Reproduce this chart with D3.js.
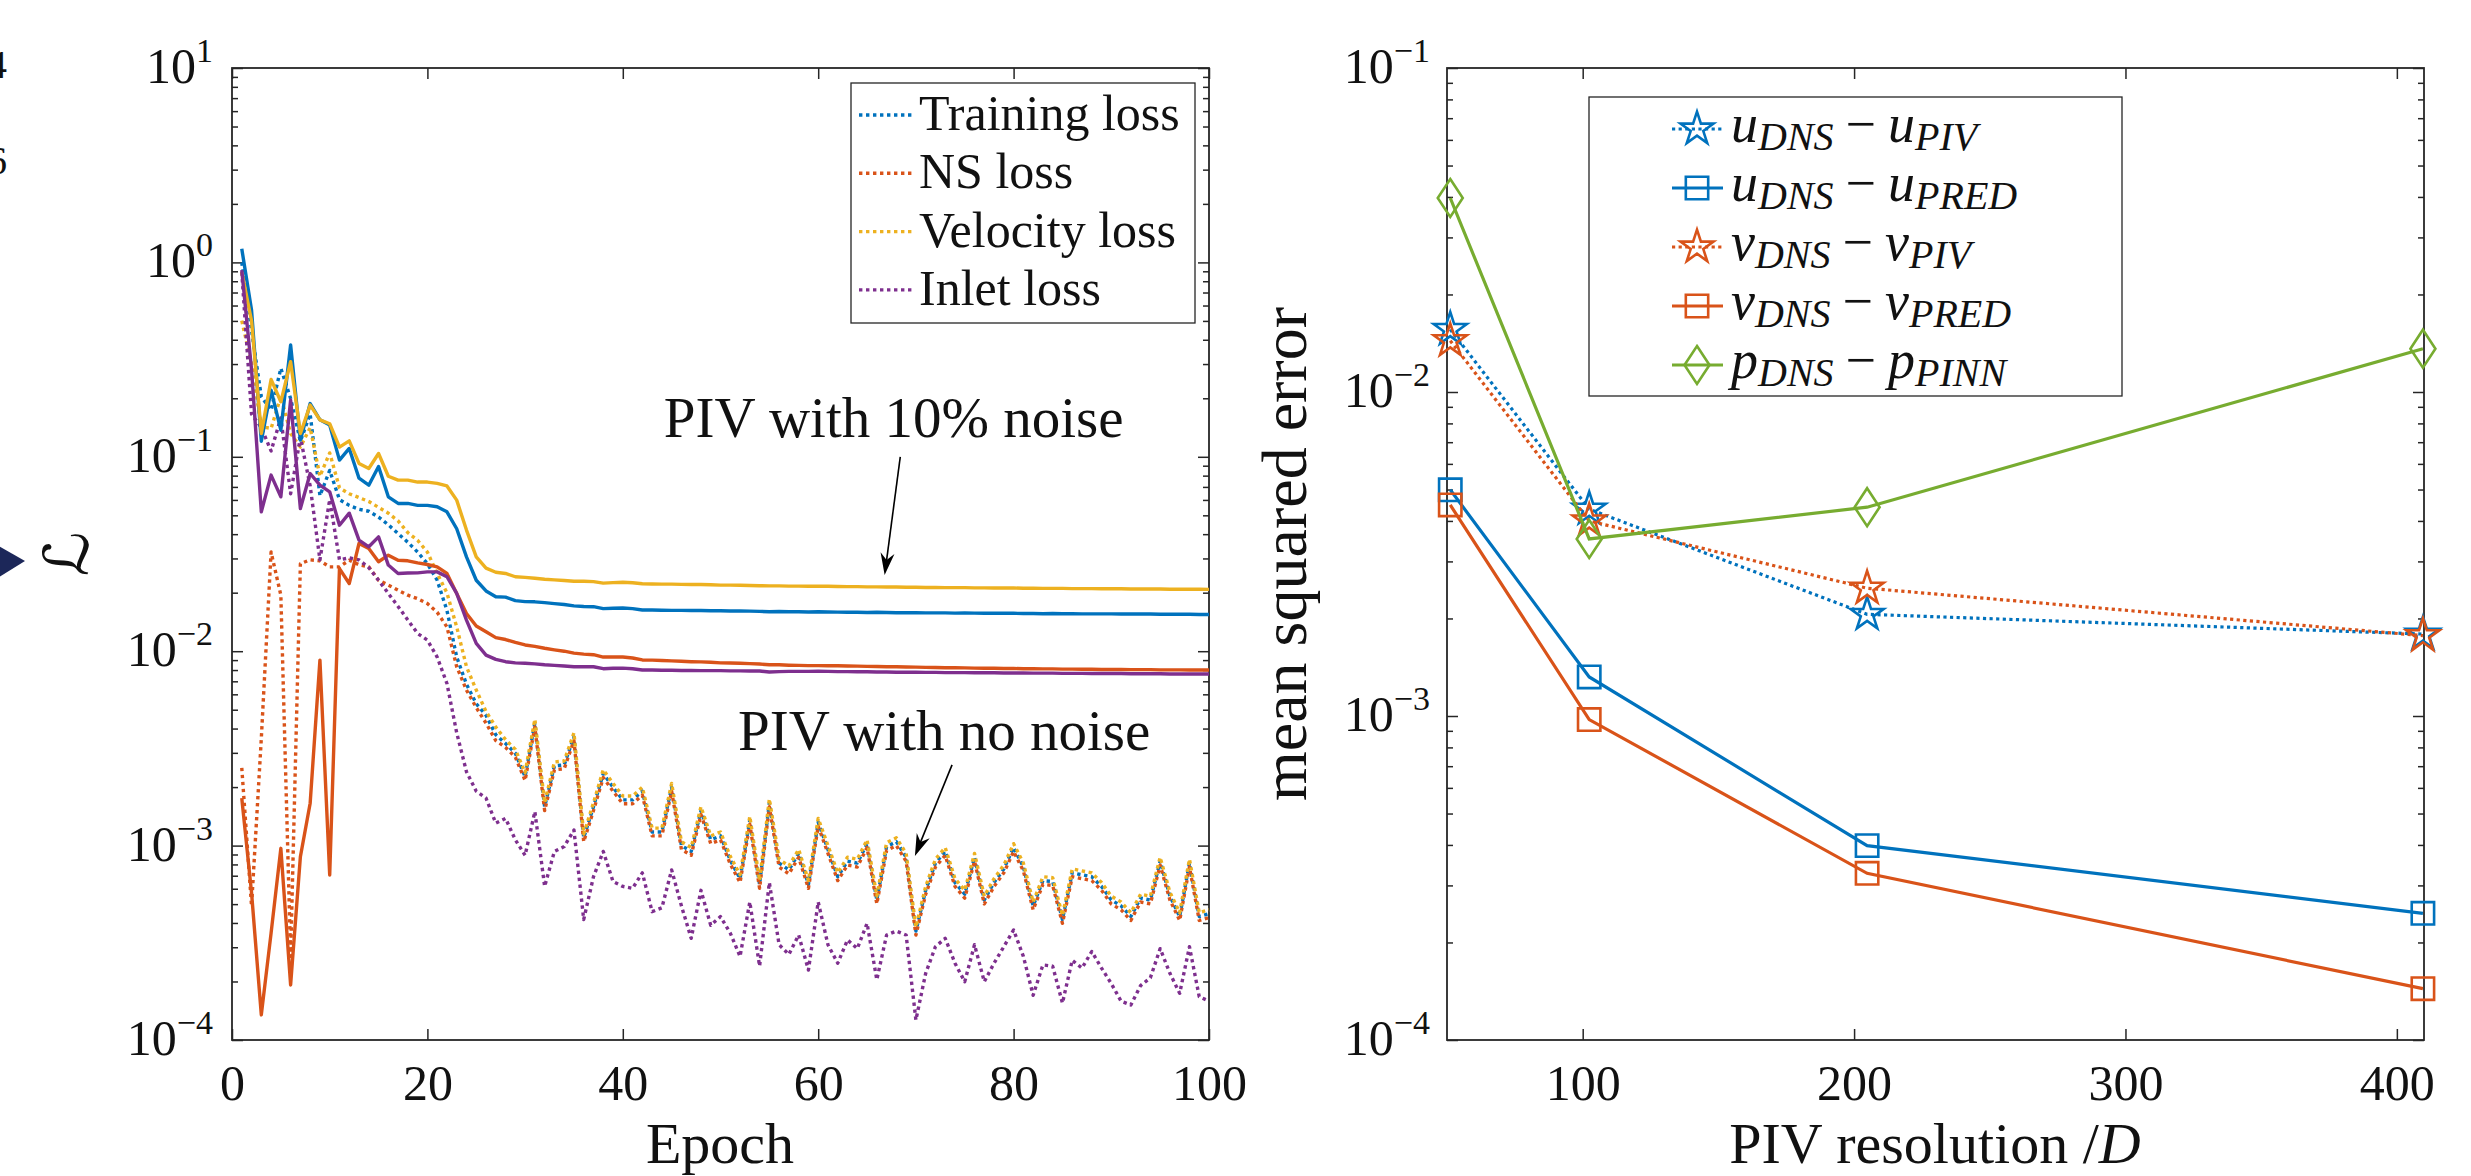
<!DOCTYPE html>
<html>
<head>
<meta charset="utf-8">
<script src="https://cdn.jsdelivr.net/npm/d3@7"></script>
<style>
  body { margin: 0; background: #fff; }
  svg text { font-family: "Liberation Serif", "Times New Roman", serif; fill: #111; }
</style>
</head>
<body>
<div id="chart"></div>
<script>
// ---------------- data (left panel: log10 of the loss, epochs 1..100) ----------------
var epochs = d3.range(1, 101);

// PIV with no noise (dotted)
var trainNoNoise = [
  0.0, -0.35, -0.69, -0.76, -0.545, -0.7, -0.92, -0.78, -1.2, -1.07,
  -1.22, -1.25, -1.27, -1.28, -1.31, -1.35, -1.395, -1.44, -1.49, -1.55,
  -1.635, -1.79, -2.03, -2.17, -2.27, -2.33, -2.43, -2.475, -2.525, -2.645,
  -2.37, -2.80, -2.59, -2.585, -2.44, -2.96, -2.80, -2.63, -2.70, -2.765,
  -2.765, -2.72, -2.93, -2.93, -2.70, -3.0, -3.03, -2.82, -2.97, -2.95,
  -3.075, -3.17, -2.87, -3.2, -2.78, -3.09, -3.125, -3.04, -3.2, -2.88,
  -3.02, -3.16, -3.08, -3.09, -2.99, -3.28, -3.005, -2.98, -3.06, -3.44,
  -3.23, -3.09, -3.03, -3.19, -3.25, -3.06, -3.28, -3.19, -3.12, -3.01,
  -3.11, -3.31, -3.18, -3.185, -3.38, -3.14, -3.15, -3.16, -3.21, -3.28,
  -3.31, -3.365, -3.27, -3.28, -3.08, -3.26, -3.365, -3.09, -3.365, -3.35
];
var nsNoNoise = [
  -2.6, -3.31, -2.45, -1.49, -1.712, -3.57, -1.55, -1.53, -1.535, -1.566,
  -1.566, -1.532, -1.555, -1.566, -1.635, -1.66, -1.686, -1.712, -1.73, -1.755,
  -1.8, -1.875, -2.08, -2.2, -2.29, -2.37, -2.46, -2.495, -2.545, -2.665,
  -2.39, -2.82, -2.61, -2.605, -2.46, -2.98, -2.82, -2.65, -2.72, -2.785,
  -2.785, -2.74, -2.95, -2.95, -2.72, -3.02, -3.05, -2.84, -2.99, -2.97,
  -3.095, -3.19, -2.89, -3.22, -2.8, -3.11, -3.145, -3.06, -3.22, -2.9,
  -3.04, -3.18, -3.1, -3.11, -3.01, -3.3, -3.025, -3.0, -3.08, -3.46,
  -3.25, -3.11, -3.05, -3.21, -3.27, -3.08, -3.3, -3.21, -3.14, -3.03,
  -3.13, -3.33, -3.2, -3.205, -3.4, -3.16, -3.17, -3.18, -3.23, -3.3,
  -3.33, -3.385, -3.29, -3.3, -3.1, -3.28, -3.385, -3.11, -3.385, -3.37
];
var velNoNoise = [
  -0.3, -0.52, -0.845, -0.854, -0.69, -0.88, -0.95, -0.85, -1.1, -0.98,
  -1.16, -1.19, -1.21, -1.23, -1.26, -1.29, -1.33, -1.39, -1.43, -1.49,
  -1.6, -1.7, -1.875, -2.08, -2.2, -2.31, -2.39, -2.455, -2.505, -2.625,
  -2.35, -2.78, -2.57, -2.565, -2.42, -2.94, -2.78, -2.61, -2.68, -2.745,
  -2.745, -2.70, -2.91, -2.91, -2.68, -2.98, -3.01, -2.80, -2.95, -2.93,
  -3.055, -3.15, -2.85, -3.18, -2.76, -3.07, -3.105, -3.02, -3.18, -2.86,
  -3.0, -3.14, -3.06, -3.07, -2.97, -3.26, -2.985, -2.96, -3.04, -3.42,
  -3.21, -3.07, -3.01, -3.17, -3.23, -3.04, -3.26, -3.17, -3.1, -2.99,
  -3.09, -3.29, -3.16, -3.165, -3.36, -3.12, -3.13, -3.14, -3.19, -3.26,
  -3.29, -3.345, -3.25, -3.26, -3.06, -3.24, -3.345, -3.07, -3.345, -3.33
];
var inletNoNoise = [
  -0.05, -0.78, -0.85, -0.97, -0.8, -1.19, -0.9, -1.15, -1.53, -1.22,
  -1.53, -1.52, -1.53, -1.57, -1.635, -1.703, -1.77, -1.84, -1.909, -1.943,
  -2.03, -2.166, -2.42, -2.62, -2.72, -2.756, -2.885, -2.86, -2.97, -3.05,
  -2.825, -3.21, -3.03, -3.005, -2.92, -3.38, -3.16, -3.03, -3.185, -3.21,
  -3.22, -3.14, -3.34, -3.32, -3.125, -3.31, -3.477, -3.23, -3.41, -3.365,
  -3.45, -3.57, -3.29, -3.62, -3.19, -3.51, -3.56, -3.46, -3.64, -3.29,
  -3.51, -3.605, -3.485, -3.53, -3.4, -3.69, -3.46, -3.44, -3.46, -3.897,
  -3.657, -3.52, -3.477, -3.605, -3.7, -3.51, -3.7, -3.605, -3.52, -3.434,
  -3.57, -3.77, -3.614, -3.62, -3.81, -3.59, -3.63, -3.545, -3.63, -3.71,
  -3.8, -3.82, -3.72, -3.68, -3.53, -3.657, -3.76, -3.52, -3.777, -3.8
];

// PIV with 10% noise (solid)
var trainNoise = [
  0.07, -0.245, -0.92, -0.657, -0.863, -0.425, -0.914, -0.726, -0.81, -0.837,
  -1.017, -0.957, -1.11, -1.146, -1.05, -1.206, -1.24, -1.24, -1.25, -1.25,
  -1.257, -1.283, -1.37, -1.515, -1.635, -1.69, -1.72, -1.722, -1.74, -1.745,
  -1.746, -1.75, -1.755, -1.76, -1.767, -1.77, -1.771, -1.781, -1.779, -1.778,
  -1.781, -1.788, -1.788, -1.789, -1.79, -1.79, -1.791, -1.791, -1.792, -1.792,
  -1.793, -1.793, -1.794, -1.795, -1.797, -1.796, -1.797, -1.797, -1.798, -1.797,
  -1.798, -1.799, -1.8, -1.8, -1.801, -1.8, -1.801, -1.802, -1.802, -1.802,
  -1.803, -1.803, -1.803, -1.804, -1.803, -1.804, -1.805, -1.805, -1.805, -1.805,
  -1.806, -1.806, -1.807, -1.806, -1.807, -1.807, -1.808, -1.808, -1.808, -1.808,
  -1.809, -1.809, -1.809, -1.809, -1.81, -1.81, -1.81, -1.81, -1.811, -1.811
];
var nsNoise = [
  -2.756, -3.242, -3.871, -3.45, -3.014, -3.717, -3.057, -2.782, -2.046, -3.151,
  -1.575, -1.652, -1.446, -1.472, -1.54, -1.506, -1.532, -1.535, -1.546, -1.554,
  -1.566, -1.6, -1.703, -1.806, -1.87, -1.9, -1.93, -1.94, -1.955, -1.968,
  -1.975, -1.985, -1.993, -2.0, -2.01, -2.015, -2.018, -2.03, -2.03, -2.03,
  -2.035, -2.045, -2.046, -2.048, -2.05, -2.052, -2.054, -2.055, -2.057, -2.06,
  -2.061, -2.062, -2.064, -2.066, -2.07, -2.07, -2.072, -2.073, -2.074, -2.074,
  -2.075, -2.075, -2.076, -2.077, -2.078, -2.079, -2.08, -2.08, -2.081, -2.082,
  -2.083, -2.084, -2.085, -2.085, -2.086, -2.087, -2.088, -2.088, -2.089, -2.089,
  -2.09, -2.09, -2.091, -2.091, -2.092, -2.092, -2.093, -2.093, -2.094, -2.094,
  -2.094, -2.095, -2.095, -2.095, -2.096, -2.096, -2.096, -2.097, -2.097, -2.097
];
var velNoise = [
  -0.05, -0.3, -0.88, -0.602, -0.717, -0.511, -0.88, -0.734, -0.81, -0.83,
  -0.95, -0.918, -1.034, -1.06, -0.983, -1.1, -1.12, -1.12, -1.13, -1.13,
  -1.137, -1.15, -1.223, -1.377, -1.515, -1.573, -1.594, -1.6, -1.617, -1.62,
  -1.625, -1.63, -1.633, -1.636, -1.64, -1.64, -1.642, -1.65, -1.647, -1.645,
  -1.648, -1.653, -1.654, -1.655, -1.655, -1.656, -1.657, -1.657, -1.658, -1.66,
  -1.66, -1.661, -1.662, -1.663, -1.664, -1.664, -1.665, -1.665, -1.666, -1.665,
  -1.666, -1.667, -1.668, -1.668, -1.669, -1.669, -1.67, -1.67, -1.671, -1.671,
  -1.672, -1.672, -1.673, -1.673, -1.673, -1.674, -1.674, -1.675, -1.675, -1.675,
  -1.676, -1.676, -1.677, -1.677, -1.677, -1.678, -1.678, -1.678, -1.679, -1.679,
  -1.679, -1.68, -1.68, -1.68, -1.68, -1.681, -1.681, -1.681, -1.681, -1.682
];
var inletNoise = [
  -0.04, -0.55, -1.283, -1.094, -1.206, -0.708, -1.266, -1.086, -1.146, -1.18,
  -1.352, -1.29, -1.429, -1.463, -1.412, -1.557, -1.6, -1.598, -1.597, -1.592,
  -1.592, -1.617, -1.703, -1.84, -1.96, -2.02, -2.042, -2.054, -2.06, -2.062,
  -2.065, -2.07, -2.073, -2.076, -2.08, -2.08, -2.08, -2.09, -2.088, -2.087,
  -2.09, -2.097, -2.097, -2.098, -2.098, -2.099, -2.099, -2.1, -2.1, -2.1,
  -2.101, -2.101, -2.102, -2.102, -2.107, -2.105, -2.104, -2.104, -2.104, -2.103,
  -2.104, -2.105, -2.105, -2.106, -2.106, -2.107, -2.107, -2.108, -2.108, -2.108,
  -2.109, -2.109, -2.11, -2.11, -2.11, -2.111, -2.111, -2.111, -2.112, -2.112,
  -2.112, -2.113, -2.113, -2.113, -2.114, -2.114, -2.114, -2.115, -2.115, -2.115,
  -2.115, -2.116, -2.116, -2.116, -2.116, -2.117, -2.117, -2.117, -2.117, -2.117
];

var lossNames = ["Training loss", "NS loss", "Velocity loss", "Inlet loss"];

// ---------------- data (right panel) ----------------
var resolution = [51.2, 102.4, 204.8, 409.6];
var uPIV  = [0.0156, 0.00435, 0.00206, 0.00179];
var uPRED = [0.00499, 0.00132, 0.000398, 0.000246];
var vPIV  = [0.0144, 0.0040, 0.00248, 0.00177];
var vPRED = [0.00448, 0.000975, 0.000327, 0.000144];
var pPINN = [0.0397, 0.00352, 0.00441, 0.0136];

var epochTicks = [0, 20, 40, 60, 80, 100];
var resTicks = [100, 200, 300, 400];
var leftDecades = [-4, -3, -2, -1, 0, 1];
var rightDecades = [-4, -3, -2, -1];

// colours (MATLAB default order)
var blue = "#0072BD", orange = "#D95319", yellow = "#EDB120", purple = "#7E2F8E", green = "#77AC30";
var axisColor = "#262626";

var svg = d3.select("#chart").append("svg")
    .attr("width", 2471)
    .attr("height", 1176);

var xL = d3.scaleLinear().domain([0, 100]).range([232, 1209]);
var yL = d3.scaleLog().domain([1e-4, 10]).range([1040, 68]);
var xR = d3.scaleLinear().domain([50, 410]).range([1447, 2424]);
var yR = d3.scaleLog().domain([1e-4, 1e-1]).range([1040, 68]);

function minorTicks(decades) {
  var out = [];
  for (var i = 0; i < decades.length - 1; i++) {
    for (var m = 2; m < 10; m++) out.push(m * Math.pow(10, decades[i]));
  }
  return out;
}

// box + inward ticks on all four sides
function drawAxes(x, y, xTicks, decades, labelRight) {
  var xl = x.range()[0], xr = x.range()[1];
  var yt = y.range()[1], yb = y.range()[0];
  var g = svg.append("g").style("color", axisColor);
  var majors = decades.map(function(k) { return Math.pow(10, k); });
  var minors = minorTicks(decades);

  var bottom = g.append("g").attr("transform", "translate(0," + yb + ")")
    .call(d3.axisBottom(x).tickValues(xTicks).tickSizeInner(-11).tickSizeOuter(0)
      .tickPadding(24).tickFormat(d3.format("d")));
  bottom.selectAll("text").style("font-size", "50px")
    .style("font-family", '"Liberation Serif", "Times New Roman", serif').attr("fill", "#111");
  g.append("g").attr("transform", "translate(0," + yt + ")")
    .call(d3.axisTop(x).tickValues(xTicks).tickSizeInner(-11).tickSizeOuter(0).tickFormat(""));

  g.append("g").attr("transform", "translate(" + xl + ",0)")
    .call(d3.axisLeft(y).tickValues(majors).tickSizeInner(-11).tickSizeOuter(0).tickFormat(""));
  g.append("g").attr("transform", "translate(" + xl + ",0)")
    .call(d3.axisLeft(y).tickValues(minors).tickSizeInner(-6).tickSizeOuter(0).tickFormat(""));
  g.append("g").attr("transform", "translate(" + xr + ",0)")
    .call(d3.axisRight(y).tickValues(majors).tickSizeInner(-11).tickSizeOuter(0).tickFormat(""));
  g.append("g").attr("transform", "translate(" + xr + ",0)")
    .call(d3.axisRight(y).tickValues(minors).tickSizeInner(-6).tickSizeOuter(0).tickFormat(""));

  g.selectAll(".domain").remove();
  g.selectAll(".tick line").attr("stroke-width", 1.5);

  g.append("rect")
    .attr("x", xl).attr("y", yt).attr("width", xr - xl).attr("height", yb - yt)
    .attr("fill", "none").attr("stroke", axisColor).attr("stroke-width", 1.8);

  // 10^k labels
  decades.forEach(function(k) {
    var t = svg.append("text")
      .attr("x", labelRight).attr("y", y(Math.pow(10, k)) + 15)
      .attr("text-anchor", "end").style("font-size", "50px");
    t.append("tspan").text("10");
    t.append("tspan").attr("dy", -21).style("font-size", "34px")
      .text(k < 0 ? "\u2212" + (-k) : String(k));
  });
}

drawAxes(xL, yL, epochTicks, leftDecades, 213);
drawAxes(xR, yR, resTicks, rightDecades, 1430);

// ---------------- left panel lines ----------------
var leftSeries = [
  { vals: trainNoNoise, color: blue,   dotted: true },
  { vals: nsNoNoise,    color: orange, dotted: true },
  { vals: velNoNoise,   color: yellow, dotted: true },
  { vals: inletNoNoise, color: purple, dotted: true },
  { vals: trainNoise,   color: blue,   dotted: false },
  { vals: nsNoise,      color: orange, dotted: false },
  { vals: velNoise,     color: yellow, dotted: false },
  { vals: inletNoise,   color: purple, dotted: false }
];

var lineL = d3.line()
  .x(function(d) { return xL(d.e); })
  .y(function(d) { return yL(d.v); });

leftSeries.forEach(function(s) {
  var pts = epochs.map(function(e, i) { return { e: e, v: Math.pow(10, s.vals[i]) }; });
  svg.append("path")
    .datum(pts)
    .attr("fill", "none")
    .attr("stroke", s.color)
    .attr("stroke-width", 3.4)
    .attr("stroke-linejoin", "round")
    .attr("stroke-dasharray", s.dotted ? "3.4,3.6" : null)
    .attr("d", lineL);
});

// annotations
function arrow(from, to) {
  var x0 = xL(from[0]), y0 = yL(from[1]), x1 = xL(to[0]), y1 = yL(to[1]);
  var dx = x1 - x0, dy = y1 - y0, len = Math.sqrt(dx * dx + dy * dy);
  var ux = dx / len, uy = dy / len, nx = -uy, ny = ux;
  svg.append("line").attr("x1", x0).attr("y1", y0)
    .attr("x2", x1 - ux * 10).attr("y2", y1 - uy * 10)
    .attr("stroke", "#000").attr("stroke-width", 1.6);
  var head = [
    [x1, y1],
    [x1 - ux * 22 + nx * 7, y1 - uy * 22 + ny * 7],
    [x1 - ux * 15, y1 - uy * 15],
    [x1 - ux * 22 - nx * 7, y1 - uy * 22 - ny * 7]
  ];
  svg.append("path").attr("d", "M" + head.join("L") + "Z").attr("fill", "#000");
}

svg.append("text").attr("x", xL(44.2)).attr("y", yL(Math.pow(10, -0.898)))
  .style("font-size", "57px").text("PIV with 10% noise");
arrow([68.4, Math.pow(10, -1.0)], [66.8, Math.pow(10, -1.608)]);

svg.append("text").attr("x", xL(51.8)).attr("y", yL(Math.pow(10, -2.508)))
  .style("font-size", "57px").text("PIV with no noise");
arrow([73.7, Math.pow(10, -2.585)], [69.9, Math.pow(10, -3.053)]);

// left legend
var legL = svg.append("g");
legL.append("rect").attr("x", 851).attr("y", 83).attr("width", 344).attr("height", 240)
  .attr("fill", "#fff").attr("stroke", axisColor).attr("stroke-width", 1.3);
lossNames.forEach(function(name, i) {
  var cy = 115 + i * 58.3;
  legL.append("line").attr("x1", 859).attr("x2", 912).attr("y1", cy).attr("y2", cy)
    .attr("stroke", leftSeries[i].color).attr("stroke-width", 3.4).attr("stroke-dasharray", "3.4,3.6");
  legL.append("text").attr("x", 919).attr("y", cy + 15).style("font-size", "50px").text(name);
});

// axis labels
svg.append("text").attr("x", 720).attr("y", 1163).attr("text-anchor", "middle")
  .style("font-size", "58px").text("Epoch");
svg.append("text").attr("transform", "translate(88,554) rotate(-90)").attr("text-anchor", "middle")
  .style("font-size", "62px").style("font-family", '"DejaVu Serif", "DejaVu Sans", serif')
  .text("\u2112");

var xlab = svg.append("text").attr("x", 1935).attr("y", 1163).attr("text-anchor", "middle")
  .style("font-size", "58px");
xlab.append("tspan").text("PIV resolution /");
xlab.append("tspan").style("font-style", "italic").text("D");
svg.append("text").attr("transform", "translate(1306,554) rotate(-90)").attr("text-anchor", "middle")
  .style("font-size", "64px").text("mean squared error");

// ---------------- right panel ----------------
var star = d3.symbol().type(d3.symbolStar).size(340);
var square = d3.symbol().type(d3.symbolSquare).size(500);
var diamond = "M0,-19L12.5,0L0,19L-12.5,0Z";

var rightSeries = [
  { vals: uPIV,  color: blue,   dotted: true,  marker: "star",    a: "u", b: "DNS", c: "u", d: "PIV" },
  { vals: uPRED, color: blue,   dotted: false, marker: "square",  a: "u", b: "DNS", c: "u", d: "PRED" },
  { vals: vPIV,  color: orange, dotted: true,  marker: "star",    a: "v", b: "DNS", c: "v", d: "PIV" },
  { vals: vPRED, color: orange, dotted: false, marker: "square",  a: "v", b: "DNS", c: "v", d: "PRED" },
  { vals: pPINN, color: green,  dotted: false, marker: "diamond", a: "p", b: "DNS", c: "p", d: "PINN" }
];

function markerPath(m) {
  if (m === "star") return star();
  if (m === "square") return square();
  return diamond;
}

var lineR = d3.line()
  .x(function(d) { return xR(d.x); })
  .y(function(d) { return yR(d.v); });

rightSeries.forEach(function(s) {
  var pts = resolution.map(function(r, i) { return { x: r, v: s.vals[i] }; });
  svg.append("path").datum(pts)
    .attr("fill", "none").attr("stroke", s.color).attr("stroke-width", 3.2)
    .attr("stroke-dasharray", s.dotted ? "3.2,3.4" : null)
    .attr("d", lineR);
  svg.selectAll(null).data(pts).enter().append("path")
    .attr("transform", function(d) { return "translate(" + xR(d.x) + "," + yR(d.v) + ")"; })
    .attr("d", markerPath(s.marker))
    .attr("fill", "none").attr("stroke", s.color).attr("stroke-width", 2.6);
});

// right legend
var legR = svg.append("g");
legR.append("rect").attr("x", 1589).attr("y", 97).attr("width", 533).attr("height", 299)
  .attr("fill", "#fff").attr("stroke", axisColor).attr("stroke-width", 1.3);
rightSeries.forEach(function(s, i) {
  var cy = 129 + i * 59;
  legR.append("line").attr("x1", 1672).attr("x2", 1723).attr("y1", cy).attr("y2", cy)
    .attr("stroke", s.color).attr("stroke-width", 3.2).attr("stroke-dasharray", s.dotted ? "3.2,3.4" : null);
  legR.append("path").attr("transform", "translate(1697," + cy + ")")
    .attr("d", markerPath(s.marker)).attr("fill", "none").attr("stroke", s.color).attr("stroke-width", 2.6);
  var t = legR.append("text").attr("x", 1731).attr("y", cy + 13).style("font-size", "54px");
  t.append("tspan").style("font-style", "italic").text(s.a);
  t.append("tspan").style("font-style", "italic").style("font-size", "40px").attr("dy", 8).text(s.b);
  t.append("tspan").attr("dy", -8).attr("dx", 12).text("\u2212");
  t.append("tspan").style("font-style", "italic").attr("dx", 12).text(s.c);
  t.append("tspan").style("font-style", "italic").style("font-size", "40px").attr("dy", 8).text(s.d);
});

// bits of the neighbouring figure cut off at the left edge
svg.append("text").attr("x", 7).attr("y", 78).attr("text-anchor", "end").style("font-size", "40px").text("4");
svg.append("text").attr("x", 7).attr("y", 174).attr("text-anchor", "end").style("font-size", "40px").text("6");
svg.append("path").attr("d", "M-12,540L25,561L-12,584Z").attr("fill", "#1c2759");
</script>
</body>
</html>
